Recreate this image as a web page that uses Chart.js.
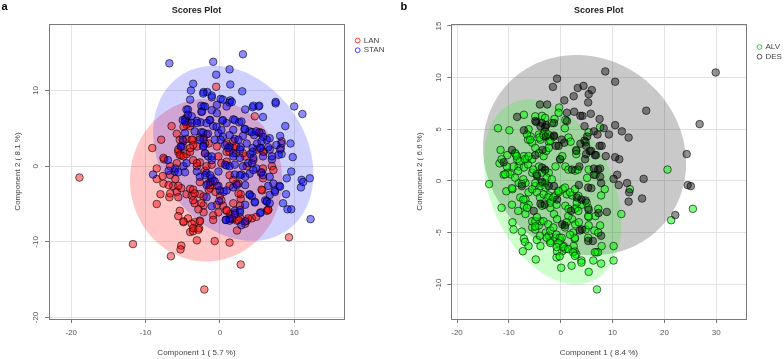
<!DOCTYPE html>
<html>
<head>
<meta charset="utf-8">
<script src="https://cdn.jsdelivr.net/npm/chart.js@4.4.1/dist/chart.umd.min.js"></script>
<style>
  html, body { margin: 0; padding: 0; background: #fff; }
  .panel { position: absolute; top: 0; width: 392px; height: 359px; }
</style>
</head>
<body>
<div class="panel" style="left:0"><canvas id="plotA"></canvas></div>
<div class="panel" style="left:392px"><canvas id="plotB"></canvas></div>
<script>
// ---- panel a : LAN vs STAN ----
var lanPoints = [
  [-0.5,10.5],[4.7,6.6],[-6.5,5.3],[-7.9,3.5],[-9.1,2.4],[-8.5,-0.3],[-5.8,4.3],[-4.5,6.4],[-4.3,5.7],[-4.0,5.3],
  [-5.0,2.6],[-5.6,1.9],[-5.2,1.4],[-7.5,0.9],[-6.7,0.0],[-5.8,0.4],[-4.5,1.6],[-4.0,1.9],[-3.6,0.8],[-3.1,0.0],
  [-2.7,0.5],[-3.1,2.6],[-3.7,3.5],[-2.7,3.8],[-1.8,4.2],[-1.5,3.0],[-0.4,2.6],[-0.2,1.3],[0.9,1.9],[1.8,2.4],
  [2.2,1.7],[3.4,1.3],[3.6,0.0],[4.5,0.8],[5.3,4.4],[5.9,1.9],[5.8,-0.3],[7.0,0.0],[7.2,-0.5],[5.5,-0.9],
  [0.2,0.4],[-2.0,1.7],[-18.9,-1.5],
  [-8.5,-1.7],[-7.6,-2.3],[-8.0,-3.7],[-8.5,-5.0],[-6.8,-4.1],[-6.3,-2.6],[-5.8,-3.4],[-5.6,-4.1],[-5.2,-2.9],[-4.5,-3.7],
  [-4.0,-3.0],[-3.8,-3.9],[-3.4,-4.9],[-2.7,-3.7],[-2.2,-5.2],[-2.2,-6.1],[-2.7,-7.2],[-3.4,-7.4],[-3.8,-7.6],[-4.3,-6.9],
  [-4.9,-7.4],[-5.4,-5.9],[-5.6,-6.6],[-4.0,-8.7],[-3.6,-8.6],[-2.8,-8.2],[-3.1,-9.8],[-5.2,-10.5],[-5.3,-11.0],[-6.6,-11.9],
  [-11.7,-10.3],[-0.7,-9.9],[1.3,-10.1],[2.8,-13.0],[-2.1,-16.3],[-0.9,-6.5],[-0.2,-6.1],[0.4,-5.2],[0.9,-5.9],[1.4,-6.3],
  [1.7,-7.0],[2.3,-7.2],[2.7,-6.8],[3.6,-7.2],[4.3,-6.9],[2.3,-8.5],[3.4,-7.6],[2.7,-5.2],[2.8,-4.3],[2.8,-3.7],
  [5.7,-3.2],[6.5,-5.7],[6.3,-5.9],[0.0,-3.9],[-0.4,-2.6],[-1.3,-2.9],[1.3,-2.6],[2.5,-2.3],[-2.7,-2.1],[-1.6,-2.3],
  [-0.9,-1.9],[9.3,-9.4],
  [-5.4,3.5],[-4.9,3.3],[-4.5,3.6],[-5.6,2.2],[-5.4,1.5],[-4.9,1.3],[-3.8,3.5],[-3.6,2.8],[-2.2,3.8],[-2.0,3.0],
  [-7.6,1.1],[-4.0,2.4],[-4.5,5.5],[-4.9,5.2],
  [-7.7,-1.3],[-6.7,-1.15],[-6.0,-1.7],[-6.9,-2.5],[-5.6,-2.6],[-6.7,-3.6],[-4.9,-7.3],[-3.6,-8.2],[-2.9,-8.4],[-2.7,-7.3],
  [-3.6,-3.1],[-3.4,-3.6],[-2.2,-4.0],[-1.5,-3.1],[-1.3,-2.5],[-0.6,-3.4],[-0.4,-5.1],[-0.9,-7.1],[-2.5,-4.9],[-2.9,-5.7],
  [-3.6,-4.5],[-2.0,-0.6],[-3.1,0.4],[-1.8,0.0],[-1.1,0.2],
  [0.9,0.6],[1.3,-1.2],[1.8,-1.8],[2.2,-2.3],[2.5,-3.6],[1.8,-4.9],[0.9,-5.8],[2.0,-6.2],[2.5,-7.1],[1.6,-6.9],
  [3.8,-6.9],[4.9,-6.7],[5.6,-3.1],[6.5,-5.8],[5.8,-1.6],[0.2,-4.5],
  [5.3,4.5],[5.0,2.2],[5.8,1.9],[8.3,3.3],[8.2,2.4],[1.8,3.3],[2.2,2.6],[0.9,3.0],[3.1,1.7],[1.3,1.9]
];
var stanPoints = [
  [-6.8,13.6],[3.1,14.8],[-0.9,13.8],[-0.5,12.1],[1.3,12.8],[1.4,10.8],[3.0,9.9],[-3.6,10.9],[-3.9,10.0],[-2.2,9.8],
  [-1.7,9.8],[-1.1,9.1],[0.1,8.9],[1.3,8.4],[1.4,8.7],[-0.4,8.1],[0.9,7.9],[-4.0,8.8],[-2.2,7.9],[-2.5,7.2],
  [-4.3,7.5],[3.4,7.5],[4.4,7.8],[5.2,7.9],[5.8,6.5],[7.5,8.3],[7.5,8.5],[10.0,7.9],[11.1,6.9],[8.8,5.3],
  [9.5,3.0],[8.3,3.0],[8.1,4.0],[9.8,1.2],[8.3,1.6],[7.0,0.9],[9.6,-0.7],[12.1,-1.6],[11.0,-1.8],[-4.7,6.2],
  [-3.8,6.6],[-3.1,6.0],[-2.6,5.8],[-1.3,6.1],[0.3,6.0],[1.8,6.2],[2.6,5.8],[3.3,4.9],[4.0,4.6],[4.6,4.1],
  [5.6,4.4],[6.3,3.5],[5.0,3.0],[4.4,2.4],[4.1,1.6],[5.5,2.4],[6.7,2.2],[-0.9,5.3],[-0.2,4.4],[0.4,3.9],
  [0.1,3.5],[2.0,3.6],[1.3,2.6],[2.8,2.5],[1.8,1.7],[2.7,1.1],[-1.6,1.3],[-1.1,0.8],[-2.5,4.5],[-2.2,3.5],
  [-2.2,2.7],[-5.0,3.5],[-5.3,2.6],[-7.0,0.8],[-9.0,-1.1],[-6.1,-0.7],[-4.7,-0.8],[-3.1,-0.7],[-1.8,-0.9],[0.9,0.1],
  [2.0,-1.1],[2.9,-1.1],[4.0,-1.0],[5.6,-0.8],
  [-1.3,-2.1],[0.0,-3.2],[0.5,-3.4],[0.9,-3.2],[1.8,-2.8],[2.3,-2.5],[3.4,-2.5],[4.0,-3.7],[3.4,-5.1],[4.7,-4.8],
  [5.5,-6.1],[6.3,-4.6],[6.5,-2.6],[7.4,-3.2],[8.0,-2.6],[8.5,-4.9],[8.9,-3.7],[9.1,-5.7],[9.6,-5.7],[10.9,-2.8],
  [11.2,-2.1],[12.2,-7.0],[-0.1,-4.6],[-1.8,-4.1],[2.0,-5.9],[0.8,-7.1],[1.3,-7.2],[2.7,-6.1],
  [-2.25,9.6],[-1.1,9.35],[-2.5,8.0],[-2.0,7.9],[-4.5,7.5],[-2.4,7.2],[-1.1,7.4],[-1.4,6.1],[-0.4,7.0],[-4.3,6.8],
  [-5.0,6.1],[-4.7,5.9],[-3.8,5.7],[-3.1,5.7],[-3.4,4.6],[-2.25,4.45],[-1.6,4.3],[-2.7,3.5],[-2.25,2.6],[-2.0,1.7],
  [-1.1,1.3],[-4.7,4.4],[-5.2,2.6],[-0.7,3.5],[-0.45,5.2],[-1.8,5.7],
  [-6.9,-0.6],[-6.0,-0.3],[-5.6,-0.8],[-4.9,0.0],[-4.5,0.4],[-2.7,-1.4],[-2.0,-1.2],[-1.1,-1.6],[-1.8,-2.5],[-0.7,-2.0],
  [-1.3,-1.2],[-0.2,-0.7],[-0.2,-2.6],[-1.1,-5.3],
  [0.7,0.2],[1.3,0.0],[2.0,0.2],[2.7,-1.2],[3.1,0.0],[3.8,0.4],[4.3,0.4],[4.9,-0.3],[5.8,-1.2],[6.7,-1.4],
  [7.2,-2.3],[8.1,-2.7],[9.0,-1.6],[6.7,-3.8],[7.4,-3.4],[6.1,-4.5],[6.3,-4.7],[6.7,-4.9],[5.4,-6.2],[4.3,-4.0],
  [4.7,-4.7],[2.7,-5.8],[2.0,-6.4],[1.3,-6.9],[0.8,-7.1],[2.9,-7.8],[3.4,-7.3],[4.0,-3.8],[4.5,-0.5],[3.4,-1.4],
  [0.4,8.8],[1.6,8.5],[4.5,8.0],[5.3,8.0],[2.0,6.1],[2.9,5.9],[0.9,5.7],[0.4,6.1],[0.2,4.8],[1.8,4.8],
  [3.4,4.9],[4.3,4.5],[4.9,4.6],[5.8,3.9],[6.7,3.7],[7.6,2.8],[8.1,2.2],[6.5,2.5],[5.6,3.3],[5.4,2.4],
  [4.4,1.9],[3.6,3.0],[3.1,4.0],[2.5,3.5],[1.3,4.1],[1.1,2.4],[0.7,2.8],[2.7,2.2],[1.8,1.3],[4.5,1.1],
  [5.8,1.3],[7.0,1.3],[7.9,1.5]
];
// ellipse: centre x, centre y, semi-axis a, semi-axis b, angle (deg)
var lanEllipse = [-1.85, -1.85, 10.25, 10.75, 0];
var stanEllipse = [1.8, 1.7, 12.5, 9.7, 126.7];
var aXTicks = [-20, -10, 0, 10];
var aYTicks = [-20, -10, 0, 10];

// ---- panel b : ALV vs DES ----
var alvPoints = [
  [-12.1,5.1],[-9.9,4.9],[-7.1,6.4],[-4.9,6.25],[-3.6,6.3],[-3.0,6.1],[-1.2,6.0],[-0.3,7.1],[-0.4,6.6],[0.9,5.9],
  [0.8,5.1],[7.6,5.2],[-6.2,5.0],[-5.8,4.3],[-6.3,4.0],[-5.5,3.7],[-4.2,4.5],[-3.9,4.0],[-3.3,4.6],[-3.0,4.8],
  [-2.0,4.3],[-2.3,3.8],[1.5,4.2],[1.9,3.8],[5.4,4.7],[4.8,3.75],[3.0,3.0],[3.0,2.6],[-11.6,3.0],[-10.3,2.5],
  [-11.8,1.7],[-10.2,0.8],[-11.0,0.6],[-8.4,2.1],[-7.1,2.4],[-6.5,2.1],[-8.7,2.6],[-8.1,1.4],[-7.1,1.3],[-6.3,1.6],
  [-5.5,2.1],[-4.9,3.2],[-4.2,2.7],[-3.3,2.4],[-2.8,2.9],[-2.3,3.2],[-4.2,1.4],[-5.5,0.8],[-4.6,0.6],[-3.0,1.0],
  [-2.3,0.8],[-1.0,1.4],[-0.1,2.1],[0.3,2.4],[0.9,1.4],[1.5,1.1],[2.8,1.0],[3.3,1.1],[5.4,1.1],[6.7,0.6],
  [20.6,1.1],[5.1,0.3],
  [-13.8,-0.3],[-11.4,-2.6],[-10.5,-1.0],[-9.3,-0.8],[-9.4,-2.3],[-9.3,-4.0],[-9.1,-4.7],[-7.8,-1.6],[-6.8,-1.8],[-6.2,-2.3],
  [-7.1,-2.4],[-8.2,-2.9],[-6.8,-3.2],[-7.5,-4.9],[-7.1,-5.6],[-6.9,-5.9],[-6.2,-6.3],[-7.3,-6.8],[-4.8,-7.6],[-3.9,-6.3],
  [-4.6,-5.7],[-5.5,-4.5],[-4.9,-4.7],[-4.2,-4.3],[-3.9,-3.9],[-5.5,-3.9],[-4.9,-3.9],[-2.9,-5.0],[-2.3,-5.3],[-2.0,-5.8],
  [-1.0,-5.5],[-0.1,-5.8],[0.6,-6.3],[0.3,-6.8],[0.9,-6.6],[-0.8,-7.4],[0.1,-8.4],[2.1,-8.2],[2.7,-6.8],[3.0,-7.1],
  [2.5,-6.3],[2.7,-5.6],[4.0,-7.7],[4.0,-7.9],[5.4,-8.8],[6.3,-7.7],[6.9,-6.9],[7.2,-6.9],[7.8,-8.0],[7.0,-10.5],
  [10.2,-7.7],[10.2,-6.3],[7.6,-4.3],[6.5,-4.8],[4.8,-4.7],[5.4,-4.3],[5.4,-3.5],[6.7,-3.4],[7.8,-1.4],[11.7,-3.2],
  [21.3,-3.8],[25.5,-2.7],[-2.3,-1.4],[-1.7,-1.8],[-1.0,-1.4],[-0.4,-1.1],[0.4,-0.8],[1.2,-1.3],[2.2,-1.4],[-3.6,-2.4],
  [-2.0,-2.6],[-1.3,-3.2],[-0.7,-3.7],[0.9,-2.4],[1.5,-2.7],[2.2,-3.7],[2.8,-4.2],[3.5,-4.0],[3.1,-2.6],[4.1,-2.3],
  [-6.2,-1.1],[-4.9,-0.5],[-3.9,-0.2],[-3.0,-0.2],[-8.1,-0.2],[-6.8,-0.2],
  [-9.4,-0.7],[-7.2,-1.8],[-6.5,-2.6],[-5.5,-0.8],[-4.6,-1.1],[-4.0,-1.6],[-3.3,-1.3],[-2.4,-1.6],[-2.0,-2.1],[-1.4,-1.6],
  [-0.8,-2.3],[-4.6,-3.5],[-4.9,-4.4],[-3.3,-3.9],[-2.4,-4.2],[-2.0,-4.8],[-1.4,-4.5],[-0.8,-5.2],[-0.2,-5.5],[-4.0,-5.3],
  [-2.7,-5.5],[-2.0,-6.0],[-0.7,-6.8],[-0.2,-7.3],
  [-1.7,5.6],[-6.5,4.5],[-5.9,4.0],[-4.1,4.2],[-3.3,4.4],[-2.4,4.5],[-2.0,3.9],[-8.8,2.7],[-8.5,2.4],[-7.9,1.9],
  [-6.9,2.1],[-6.2,2.4],[-9.1,1.4],[-8.2,0.97],[-9.7,0.65],[-10.7,0.65],[-8.8,0.32],[-7.2,0.16],[-7.5,-0.3],[-5.3,1.1],
  [-4.6,0.65],[-3.6,0.81],[-2.7,0.32],[-1.7,0.16],[-4.9,-0.2],[-3.9,-0.5],[-2.9,-0.64],[-11.4,2.1],[-10.4,1.4],
  [-0.45,-0.96],[0.83,-0.64],[1.8,-1.1],[2.75,-0.8],[3.4,-1.45],[3.1,-2.1],[2.75,-2.7],[3.4,-2.9],[1.47,-3.4],[1.15,-4.0],
  [0.83,-4.5],[2.4,-5.0],[2.75,-5.5],[1.8,-5.2],[0.19,-5.5],[-0.45,-6.0],[-0.77,-6.4],[0.5,-6.4],[1.47,-6.6],[2.4,-6.9],
  [2.75,-7.25],[6.6,-6.9],[7.9,-6.3],[5.3,-5.5],[7.25,-5.0],[5.3,-3.4],[7.25,-2.7],[5.3,-2.6],[5.0,-2.1],[13.35,-0.8],
  [8.5,-0.8]
];
var desPoints = [
  [29.9,10.5],[8.6,10.6],[10.5,9.6],[-0.7,9.9],[-1.5,9.1],[4.4,9.2],[3.3,9.0],[6.0,8.8],[5.4,8.4],[2.5,8.2],
  [0.7,7.8],[5.3,7.6],[1.2,6.6],[2.6,6.7],[3.8,6.3],[4.2,6.3],[5.8,6.5],[7.5,6.0],[16.5,6.8],[26.8,5.5],
  [-4.0,7.4],[-2.6,7.4],[-8.4,6.2],[-4.7,5.7],[-3.9,5.3],[-2.8,5.4],[-1.3,5.6],[1.2,5.8],[4.6,5.3],[6.4,4.8],
  [8.3,5.1],[10.5,5.4],[11.8,4.8],[13.1,4.2],[9.3,4.5],[7.1,4.5],[5.1,4.3],[3.8,3.6],[4.9,3.4],[7.5,3.4],
  [7.9,3.4],[3.0,2.9],[4.9,2.6],[5.9,2.9],[6.8,2.5],[8.7,2.4],[10.5,2.3],[11.3,2.1],[24.3,2.6],[6.4,1.2],
  [7.6,1.2],[3.6,1.4],[2.2,1.1],[6.4,0.6],[10.9,0.6],[10.2,0.2],[16.0,0.2],[-4.9,2.5],[-3.5,3.0],[-2.9,4.3],
  [-1.3,4.3],[-9.4,3.0],[-11.0,1.8],[-0.4,3.4],[-0.1,2.1],
  [11.2,-0.4],[12.8,-0.2],[13.2,-1.1],[13.1,-2.0],[15.7,-1.7],[24.5,-0.4],[25.1,-0.5],[22.1,-3.3],[8.9,-3.0],[7.8,-0.2],
  [5.9,-0.7],[3.5,-0.4],[3.1,-1.6],[4.8,-1.9],[5.4,-2.8],[7.3,-3.1],[7.8,-5.3],[6.2,-5.8],[4.1,-4.7],[3.7,-4.8],
  [2.0,-2.9],[0.3,-4.2],[0.8,-4.3],[-3.1,-2.3],[-3.9,-2.2],[-5.2,-2.9],[-7.5,-0.5],[-2.3,-0.5],[-1.3,-0.5],[-0.7,-1.8],
  [4.6,3.9],[6.6,2.5],[7.2,1.1],[7.6,0.4],[0.2,4.0],[0.7,3.7],[5.6,2.9],[4.7,2.1],
  [-4.9,5.8],[-3.6,5.6],[-3.0,5.2],[-7.1,4.9],[-3.6,1.3],[-3.0,1.1],[-4.6,0.5],[-3.6,-0.1],[-1.3,4.4],[-0.9,3.4],
  [5.3,-0.64],[4.0,-1.8],[5.3,-5.8]
];
var desEllipse = [4.6, 2.5, 19.6, 9.65, -3];
var alvEllipse = [-1.55, -1.05, 13.8, 8.1, 160];
var bXTicks = [-20, -10, 0, 10, 20, 30];
var bYTicks = [-10, -5, 0, 5, 10, 15];

var FONT = "'Liberation Sans', Arial, sans-serif";

function toXY(pts) {
    return pts.map(function (p) { return { x: p[0], y: p[1] }; });
}

function makePanel(canvasId, cfg) {
    var ellipsePlugin = {
        id: "ellipses",
        beforeDatasetsDraw: function (chart) {
            var ctx = chart.ctx, xs = chart.scales.x, ys = chart.scales.y, a = chart.chartArea;
            ctx.save();
            ctx.beginPath();
            ctx.rect(a.left, a.top, a.right - a.left, a.bottom - a.top);
            ctx.clip();
            cfg.ellipses.forEach(function (e) {
                var p = e.params, th = p[4] * Math.PI / 180;
                ctx.beginPath();
                for (var i = 0; i <= 180; i++) {
                    var t = i / 180 * 2 * Math.PI;
                    var dx = p[2] * Math.cos(t) * Math.cos(th) - p[3] * Math.sin(t) * Math.sin(th);
                    var dy = p[2] * Math.cos(t) * Math.sin(th) + p[3] * Math.sin(t) * Math.cos(th);
                    var px = xs.getPixelForValue(p[0] + dx), py = ys.getPixelForValue(p[1] + dy);
                    if (i === 0) ctx.moveTo(px, py); else ctx.lineTo(px, py);
                }
                ctx.closePath();
                ctx.fillStyle = e.color;
                ctx.fill();
            });
            ctx.restore();
        }
    };
    var framePlugin = {
        id: "frame",
        afterDraw: function (chart) {
            var ctx = chart.ctx, a = chart.chartArea, ys = chart.scales.y;
            ctx.save();
            // box
            ctx.strokeStyle = "#7a7a7a";
            ctx.lineWidth = 1;
            ctx.strokeRect(Math.round(a.left) + 0.5, Math.round(a.top) + 0.5,
                Math.round(a.right - a.left), Math.round(a.bottom - a.top));
            // rotated y tick labels
            ctx.fillStyle = "#555";
            ctx.font = "8px " + FONT;
            ctx.textAlign = "center";
            ctx.textBaseline = "middle";
            cfg.yTicks.forEach(function (v) {
                ctx.save();
                ctx.translate(cfg.yLabelX, ys.getPixelForValue(v));
                ctx.rotate(-Math.PI / 2);
                ctx.fillText(String(v), 0, 0);
                ctx.restore();
            });
            // title
            ctx.fillStyle = "#222";
            ctx.font = "bold 9px " + FONT;
            ctx.fillText("Scores Plot", (a.left + a.right) / 2, 11);
            // panel letter
            ctx.fillStyle = "#000";
            ctx.font = "bold 11px " + FONT;
            ctx.textAlign = "left";
            ctx.textBaseline = "alphabetic";
            ctx.fillText(cfg.letter, cfg.letterX, 10);
            // legend
            ctx.font = "8px " + FONT;
            ctx.textBaseline = "middle";
            cfg.legend.forEach(function (item, i) {
                var y = cfg.legendY + i * 9.7;
                ctx.beginPath();
                ctx.arc(cfg.legendX, y, 2.4, 0, 2 * Math.PI);
                ctx.strokeStyle = item.color;
                ctx.lineWidth = 1;
                ctx.stroke();
                ctx.fillStyle = "#444";
                ctx.fillText(item.text, cfg.legendX + 6, y);
            });
            ctx.restore();
        }
    };
    var datasets = cfg.series.map(function (s) {
        return {
            label: s.label,
            data: toXY(s.points),
            backgroundColor: s.fill,
            borderColor: "rgba(0,0,0,0.6)",
            borderWidth: 1,
            pointRadius: 3.8,
            pointHoverRadius: 3.8,
            showLine: false,
            order: s.order
        };
    });
    return new Chart(document.getElementById(canvasId), {
        type: "scatter",
        data: { datasets: datasets },
        plugins: [ellipsePlugin, framePlugin],
        options: {
            responsive: true,
            maintainAspectRatio: false,
            animation: false,
            events: [],
            layout: { padding: { left: 0, top: cfg.padTop, right: cfg.padRight, bottom: 0 } },
            plugins: { legend: { display: false }, tooltip: { enabled: false } },
            scales: {
                x: {
                    type: "linear",
                    min: cfg.xRange[0],
                    max: cfg.xRange[1],
                    afterBuildTicks: function (s) { s.ticks = cfg.xTicks.map(function (v) { return { value: v }; }); },
                    afterFit: function (s) { s.height = 359 - cfg.bottom; },
                    ticks: { color: "#555", font: { size: 8, family: FONT }, padding: 5, maxRotation: 0,
                        callback: function (v) { return String(v); } },
                    grid: { color: "#e3e3e3", tickColor: "#777", tickLength: 4 },
                    border: { display: false },
                    title: { display: true, text: cfg.xTitle, color: "#444", font: { size: 8, family: FONT },
                        padding: { top: 0, bottom: 1 } }
                },
                y: {
                    type: "linear",
                    min: cfg.yRange[0],
                    max: cfg.yRange[1],
                    afterBuildTicks: function (s) { s.ticks = cfg.yTicks.map(function (v) { return { value: v }; }); },
                    afterFit: function (s) { s.width = cfg.left; },
                    ticks: { display: false },
                    grid: { color: "#e3e3e3", tickColor: "#777", tickLength: 4 },
                    border: { display: false },
                    title: { display: true, text: cfg.yTitle, color: "#444", font: { size: 8, family: FONT },
                        padding: { top: cfg.yTitlePad, bottom: 0 } }
                }
            }
        }
    });
}

makePanel("plotA", {
    series: [
        { label: "LAN", points: lanPoints, fill: "rgba(255,0,0,0.45)", order: 2 },
        { label: "STAN", points: stanPoints, fill: "rgba(0,0,255,0.45)", order: 1 }
    ],
    ellipses: [
        { params: lanEllipse, color: "rgba(255,0,0,0.22)" },
        { params: stanEllipse, color: "rgba(0,0,255,0.18)" }
    ],
    legend: [ { text: "LAN", color: "rgba(255,0,0,0.75)" }, { text: "STAN", color: "rgba(0,0,255,0.75)" } ],
    legendX: 357.7, legendY: 40.5,
    xRange: [-23.0, 16.7], yRange: [-20.2, 18.8],
    xTicks: aXTicks, yTicks: aYTicks,
    left: 49, bottom: 319, padTop: 24, padRight: 48,
    yLabelX: 36, yTitlePad: 13,
    xTitle: "Component 1 ( 5.7 %)", yTitle: "Component 2 ( 8.1 %)",
    letter: "a", letterX: 1.5
});

makePanel("plotB", {
    series: [
        { label: "ALV", points: alvPoints, fill: "rgba(0,255,0,0.5)", order: 2 },
        { label: "DES", points: desPoints, fill: "rgba(0,0,0,0.42)", order: 1 }
    ],
    ellipses: [
        { params: desEllipse, color: "rgba(0,0,0,0.21)" },
        { params: alvEllipse, color: "rgba(0,255,0,0.2)" }
    ],
    legend: [ { text: "ALV", color: "rgba(0,200,0,0.8)" }, { text: "DES", color: "#555" } ],
    legendX: 367.5, legendY: 47,
    xRange: [-21.1, 35.8], yRange: [-13.36, 15.19],
    xTicks: bXTicks, yTicks: bYTicks,
    left: 59.3, bottom: 319, padTop: 24, padRight: 37.7,
    yLabelX: 46.7, yTitlePad: 23,
    xTitle: "Component 1 ( 8.4 %)", yTitle: "Component 2 ( 6.6 %)",
    letter: "b", letterX: 8.5
});
</script>
</body>
</html>
